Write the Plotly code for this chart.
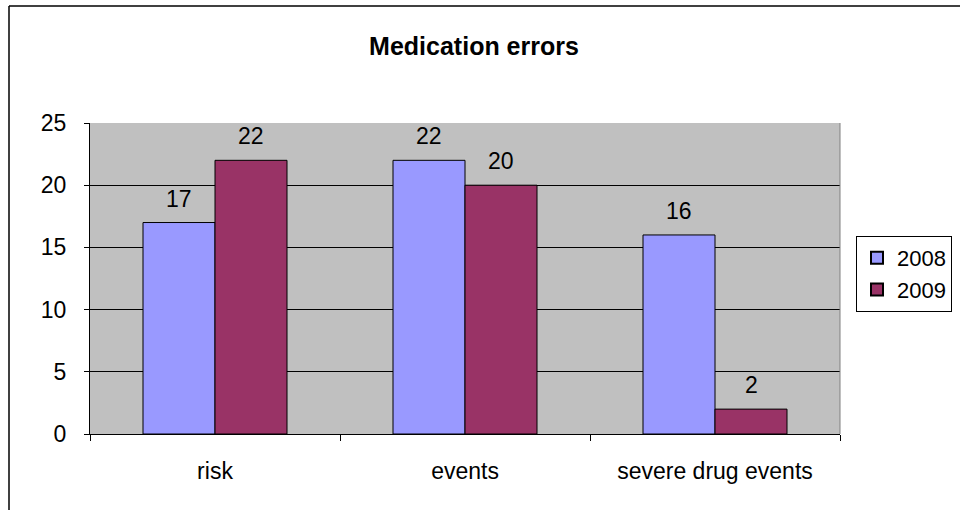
import plotly.graph_objects as go

categories = ["risk", "events", "severe drug events"]
series_names = ["2008", "2009"]
values_2008 = [17, 22, 16]
values_2009 = [22, 20, 2]
y_ticks = [0, 5, 10, 15, 20, 25]

colors = ["#9999FF", "#993366"]
font = "Liberation Sans, Arial, sans-serif"
FS = 23

fig = go.Figure()
for name, vals, col in zip(series_names, [values_2008, values_2009], colors):
    fig.add_trace(go.Bar(
        x=categories, y=vals, name=name,
        marker=dict(color=col, line=dict(color="black", width=1)),
    ))

# data labels
for i, (name, vals) in enumerate(zip(series_names, [values_2008, values_2009])):
    shift = -36 if i == 0 else 36
    for c, v in zip(categories, vals):
        fig.add_annotation(x=c, y=v, text=str(v), showarrow=False,
                           xshift=shift, yshift=9, yanchor="bottom",
                           font=dict(family=font, size=FS, color="black"))

L, R, T, B = 90, 840, 123, 434
W, H = R - L, B - T
def px(x): return (x - L) / W
def py(y): return (B - y) / H

shapes = [
    dict(type="line", xref="paper", yref="paper", x0=px(9), x1=px(965), y0=py(6), y1=py(6),
         line=dict(color="black", width=1.5)),
    dict(type="line", xref="paper", yref="paper", x0=px(9), x1=px(9), y0=py(6), y1=py(515),
         line=dict(color="black", width=1.5)),
    dict(type="line", xref="paper", yref="paper", x0=1, x1=1, y0=0, y1=1,
         line=dict(color="#808080", width=1)),
]

fig.update_layout(
    width=960, height=510,
    margin=dict(l=L, r=960 - R, t=T, b=510 - B, autoexpand=False),
    paper_bgcolor="white", plot_bgcolor="#C0C0C0",
    barmode="group", bargap=0.424, bargroupgap=0,
    title=dict(text="<b>Medication errors</b>", x=px(474), xref="paper", xanchor="center",
               y=1 - 46 / 510, yref="container", yanchor="middle",
               font=dict(family=font, size=25, color="black")),
    font=dict(family=font, size=FS, color="black"),
    legend=dict(x=px(856), y=py(236), xanchor="left", yanchor="top",
                bordercolor="black", borderwidth=1, bgcolor="white",
                font=dict(family=font, size=22), itemsizing="constant",
                itemwidth=30, tracegroupgap=2),
    shapes=shapes,
    showlegend=True,
)
fig.update_yaxes(range=[0, 25], tickvals=y_ticks, showgrid=True, gridcolor="black", gridwidth=1,
                 showline=True, linecolor="black", linewidth=1, ticks="outside", ticklen=5,
                 tickcolor="black", zeroline=False, tickfont=dict(size=FS), ticklabelstandoff=13)
fig.update_xaxes(showline=True, linecolor="black", linewidth=1, ticks="outside",
                 tickson="boundaries", ticklen=6, tickcolor="black", tickfont=dict(size=FS),
                 ticklabelstandoff=16)

fig.write_html("out.html", config={"displayModeBar": False},
               post_script="document.body.style.margin='0';")
